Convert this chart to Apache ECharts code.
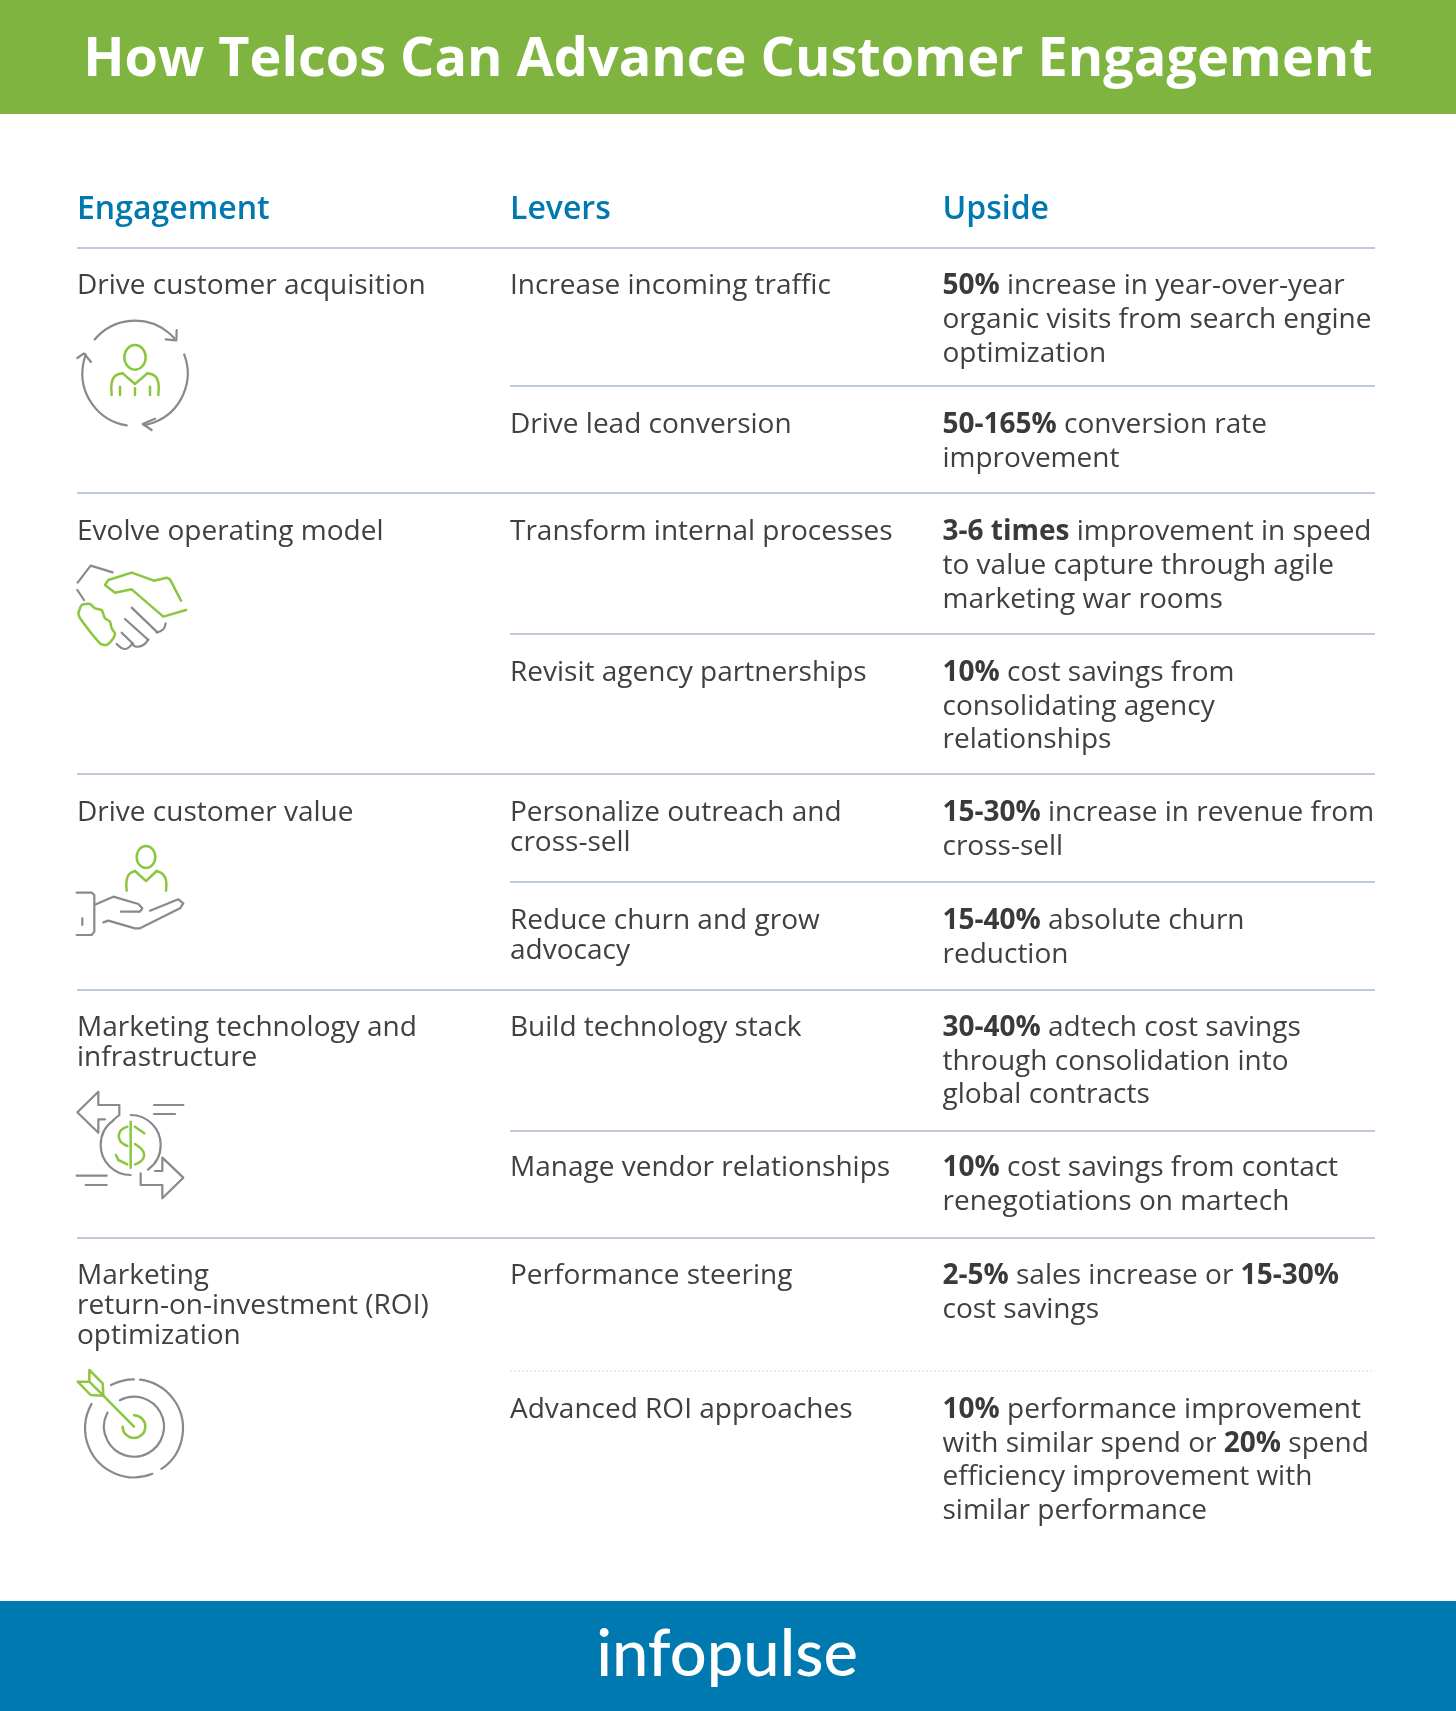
<!DOCTYPE html>
<html>
<head>
<meta charset="utf-8">
<title>How Telcos Can Advance Customer Engagement</title>
<script src="https://cdn.jsdelivr.net/npm/echarts@6/dist/echarts.min.js"></script>
<style>
    html, body { margin: 0; padding: 0; background: #fff; }
    #main { width: 1456px; height: 1711px; }
</style>
</head>
<body>
<div id="main"></div>
<script>
var titleText = 'How Telcos Can Advance Customer Engagement';
var logoText = 'infopulse';
var columnHeads = ['Engagement', 'Levers', 'Upside'];

var engagementCells = [
    ['Drive customer acquisition'],
    ['Evolve operating model'],
    ['Drive customer value'],
    ['Marketing technology and', 'infrastructure'],
    ['Marketing', 'return-on-investment (ROI)', 'optimization']
];
var leverCells = [
    ['Increase incoming traffic'],
    ['Drive lead conversion'],
    ['Transform internal processes'],
    ['Revisit agency partnerships'],
    ['Personalize outreach and', 'cross-sell'],
    ['Reduce churn and grow', 'advocacy'],
    ['Build technology stack'],
    ['Manage vendor relationships'],
    ['Performance steering'],
    ['Advanced ROI approaches']
];
// {b|...} marks the bold figures
var upsideCells = [
    ['{b|50%} increase in year-over-year', 'organic visits from search engine', 'optimization'],
    ['{b|50-165%} conversion rate', 'improvement'],
    ['{b|3-6 times} improvement in speed', 'to value capture through agile', 'marketing war rooms'],
    ['{b|10%} cost savings from', 'consolidating agency', 'relationships'],
    ['{b|15-30%} increase in revenue from', 'cross-sell'],
    ['{b|15-40%} absolute churn', 'reduction'],
    ['{b|30-40%} adtech cost savings', 'through consolidation into', 'global contracts'],
    ['{b|10%} cost savings from contact', 'renegotiations on martech'],
    ['{b|2-5%} sales increase or {b|15-30%}', 'cost savings'],
    ['{b|10%} performance improvement', 'with similar spend or {b|20%} spend', 'efficiency improvement with', 'similar performance']
];

// layout, kept apart from the content
var GREEN = '#7fb441', BLUE = '#0078b0', INK = '#404041', RULE = '#bfcbd8';
var ICON_GREY = '#88898b', ICON_GREEN = '#8cc63f';
var FONT = '"Open Sans", sans-serif';
var colX = [77, 510, 942.5];
var rightX = 1375;
var engagementY = [286.5, 532.5, 813, 1028, 1276];
var rowY = [286.5, 425.5, 532.5, 673, 813, 921, 1028, 1168, 1276, 1410];
var fullRules = [248, 493, 774, 990, 1238];
var partRules = [386, 634, 882, 1131];

var BODY_SIZE = 28;
var LEFT_LH = 30;
var RIGHT_LH = 33.6;

var elements = [];

function band(y, h, color) {
    elements.push({ type: 'rect', shape: { x: 0, y: y, width: 1456, height: h }, style: { fill: color } });
}
function rule(x1, x2, y, color, dash) {
    elements.push({
        type: 'line',
        shape: { x1: x1, y1: y, x2: x2, y2: y },
        style: { stroke: color || RULE, lineWidth: 2, lineDash: dash || null }
    });
}
function cell(x, centerY, lines, lineHeight) {
    elements.push({
        type: 'text',
        x: x,
        y: centerY - lineHeight / 2,
        style: {
            text: lines.join('\n'),
            font: '400 ' + BODY_SIZE + 'px ' + FONT,
            fill: INK,
            align: 'left',
            verticalAlign: 'top',
            lineHeight: lineHeight,
            rich: {
                b: { font: '700 ' + BODY_SIZE + 'px ' + FONT, fill: '#3a3a3b', lineHeight: lineHeight }
            }
        }
    });
}

function trace(ox, oy, pts) {
    return pts.map(function (p) { return [ox + p[0] / 3, oy + p[1] / 3]; });
}
function poly(ox, oy, pts, color, smooth) {
    elements.push({
        type: 'polyline',
        shape: { points: trace(ox, oy, pts), smooth: smooth || 0 },
        style: { stroke: color, fill: null, lineWidth: color === ICON_GREEN ? 2.5 : 2.2, lineCap: 'round', lineJoin: 'round' }
    });
}
function arc(ox, oy, c, r, from, to, color) {
    elements.push({
        type: 'arc',
        shape: {
            cx: ox + c[0] / 3, cy: oy + c[1] / 3, r: r / 3,
            startAngle: from * Math.PI / 180, endAngle: to * Math.PI / 180, clockwise: true
        },
        style: { stroke: color, fill: null, lineWidth: color === ICON_GREEN ? 2.5 : 2.2, lineCap: 'round' }
    });
}
function oval(ox, oy, c, rx, ry, color) {
    elements.push({
        type: 'ellipse',
        shape: { cx: ox + c[0] / 3, cy: oy + c[1] / 3, rx: rx / 3, ry: ry / 3 },
        style: { stroke: color, fill: null, lineWidth: 2.5 }
    });
}

function iconCycle() {
    var ox = 0, oy = 260, g = ICON_GREY, c = ICON_GREEN;
    arc(ox, oy, [405, 340], 158, -140, -42, g);
    poly(ox, oy, [[497, 238], [529, 241], [530, 210]], g);
    arc(ox, oy, [405, 340], 158, -21, 80, g);
    poly(ox, oy, [[465, 476], [428, 492], [455, 510]], g);
    arc(ox, oy, [405, 340], 158, 99, 201, g);
    poly(ox, oy, [[232, 294], [252, 280], [273, 306]], g);
    oval(ox, oy, [405, 292], 32, 37, c);
    poly(ox, oy, [[335, 405], [335, 368], [345, 348], [368, 340]], c, 0.4);
    poly(ox, oy, [[368, 340], [405, 372], [442, 340]], c);
    poly(ox, oy, [[442, 340], [465, 348], [475, 368], [475, 405]], c, 0.4);
    poly(ox, oy, [[360, 380], [360, 405]], c);
    poly(ox, oy, [[405, 385], [405, 405]], c);
    poly(ox, oy, [[450, 380], [450, 405]], c);
}
function iconHands() {
    var ox = 0, oy = 260, g = ICON_GREY, c = ICON_GREEN;
    poly(ox, oy, [[233, 968], [272, 917], [338, 937]], g);
    poly(ox, oy, [[232, 990], [252, 1020]], g);
    poly(ox, oy, [[395, 1043], [470, 1115]], g);
    poly(ox, oy, [[375, 1077], [445, 1140]], g);
    poly(ox, oy, [[365, 1118], [400, 1152]], g);
    poly(ox, oy, [[497, 1090], [490, 1108], [470, 1118]], g, 0.4);
    poly(ox, oy, [[445, 1138], [430, 1155], [408, 1160], [395, 1150]], g, 0.4);
    poly(ox, oy, [[398, 1150], [375, 1167], [350, 1152]], g, 0.4);
    poly(ox, oy, [[543, 1022], [510, 958], [500, 953], [462, 962], [395, 938], [325, 960], [315, 975], [345, 998], [395, 988], [490, 1070], [558, 1050]], c);
    poly(ox, oy, [[235, 1060], [245, 1035], [270, 1032], [285, 1045], [305, 1050], [315, 1075], [330, 1085], [335, 1105], [345, 1120], [340, 1135], [320, 1155], [300, 1150], [240, 1075], [235, 1060]], c, 0.2);
}
function iconGive() {
    var ox = 50, oy = 800, g = ICON_GREY, c = ICON_GREEN;
    oval(ox, oy, [288, 171], 28, 33, c);
    poly(ox, oy, [[230, 272], [230, 240], [238, 222], [255, 213]], c, 0.4);
    poly(ox, oy, [[255, 213], [288, 243], [320, 213]], c);
    poly(ox, oy, [[320, 213], [338, 222], [348, 240], [348, 272]], c, 0.4);
    poly(ox, oy, [[80, 278], [125, 278], [133, 285], [133, 395], [125, 405], [80, 405]], g);
    poly(ox, oy, [[97, 355], [97, 375]], g);
    poly(ox, oy, [[138, 313], [190, 290], [265, 312], [277, 325], [270, 335], [213, 335]], g);
    poly(ox, oy, [[300, 332], [385, 298], [400, 310], [390, 325], [270, 385], [255, 385], [175, 362], [160, 367]], g);
}
function iconMoney() {
    var ox = 50, oy = 1070, g = ICON_GREY, c = ICON_GREEN;
    poly(ox, oy, [[165, 148], [145, 148], [145, 188], [82, 127], [145, 65], [145, 105], [208, 105], [208, 135], [190, 150]], g);
    arc(ox, oy, [242, 225], 90, -90, 55, g);
    arc(ox, oy, [242, 225], 90, 90, 235, g);
    poly(ox, oy, [[272, 310], [272, 345], [337, 345], [337, 385], [400, 323], [337, 263], [337, 303], [315, 303]], g);
    poly(ox, oy, [[312, 105], [400, 105]], g);
    poly(ox, oy, [[312, 132], [375, 132]], g);
    poly(ox, oy, [[80, 317], [170, 317]], g);
    poly(ox, oy, [[107, 345], [170, 345]], g);
    poly(ox, oy, [[242, 155], [242, 293]], c);
    poly(ox, oy, [[232, 170], [210, 185], [210, 212], [232, 228]], c, 0.4);
    poly(ox, oy, [[255, 170], [283, 190]], c);
    poly(ox, oy, [[255, 222], [280, 245], [278, 268], [255, 283]], c, 0.4);
    poly(ox, oy, [[232, 283], [205, 270], [198, 255]], c);
}
function iconTarget() {
    var ox = 50, oy = 1350, g = ICON_GREY, c = ICON_GREEN;
    arc(ox, oy, [252, 235], 147, -118, -90, g);
    arc(ox, oy, [252, 235], 147, -83, 56, g);
    arc(ox, oy, [252, 235], 147, 68, 210, g);
    arc(ox, oy, [252, 230], 90, -118, 208, g);
    arc(ox, oy, [252, 230], 34, -90, 180, c);
    poly(ox, oy, [[252, 230], [160, 137]], c);
    poly(ox, oy, [[160, 137], [158, 100], [118, 60], [118, 95], [83, 95], [122, 135], [160, 137]], c);
    poly(ox, oy, [[118, 95], [160, 137]], c);
}

// banners
band(0, 114, GREEN);
band(1601, 110, BLUE);
elements.push({
    type: 'text', x: 728, y: 61,
    style: { text: titleText, font: '700 54px ' + FONT, fill: '#fff', align: 'center', verticalAlign: 'middle' }
});
elements.push({
    type: 'text', x: 727, y: 1655,
    style: { text: logoText, font: '500 65px Lato, sans-serif', fill: '#fff', align: 'center', verticalAlign: 'middle' }
});

// column heads
columnHeads.forEach(function (head, i) {
    elements.push({
        type: 'text', x: colX[i], y: 210,
        style: { text: head, font: '600 32px ' + FONT, fill: BLUE, align: 'left', verticalAlign: 'middle' }
    });
});

// rules
fullRules.forEach(function (y) { rule(77, rightX, y); });
partRules.forEach(function (y) { rule(510, rightX, y); });
rule(510, rightX, 1371, '#ececec', [2, 2]);

// table cells
engagementCells.forEach(function (lines, i) { cell(colX[0], engagementY[i], lines, LEFT_LH); });
leverCells.forEach(function (lines, i) { cell(colX[1], rowY[i], lines, LEFT_LH); });
upsideCells.forEach(function (lines, i) { cell(colX[2], rowY[i], lines, RIGHT_LH); });

iconCycle();
iconHands();
iconGive();
iconMoney();
iconTarget();

var chart = echarts.init(document.getElementById('main'));
chart.setOption({
    backgroundColor: '#ffffff',
    animation: false,
    graphic: { elements: elements }
});
</script>
</body>
</html>
